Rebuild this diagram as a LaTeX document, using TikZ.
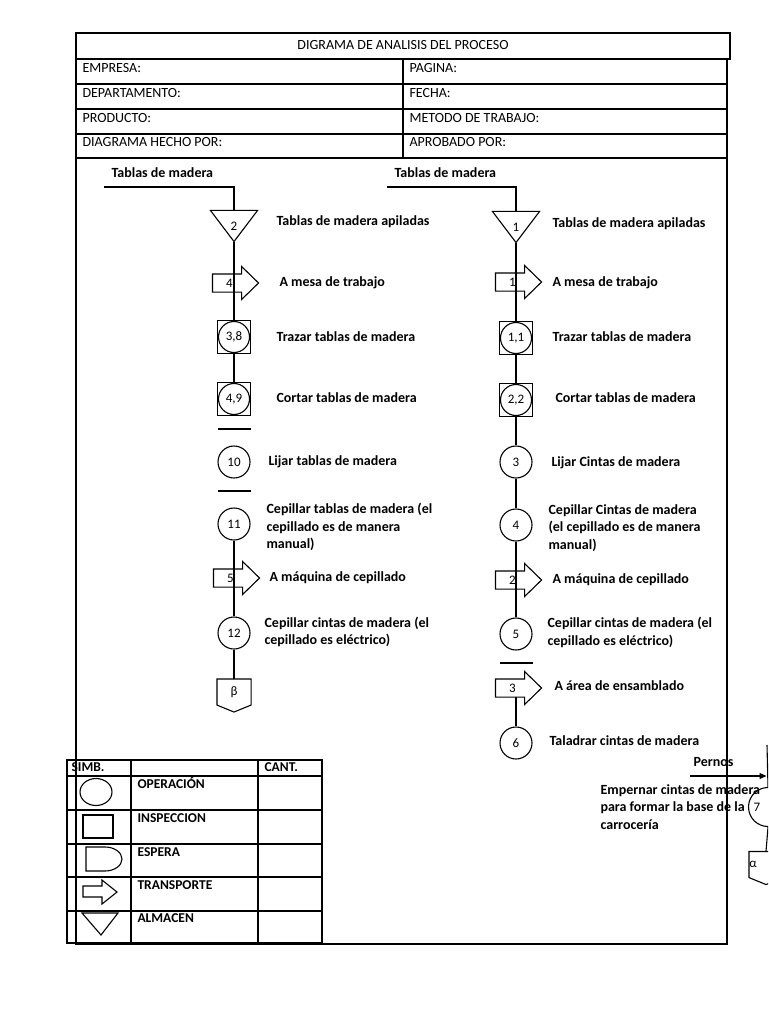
\documentclass[tikz,border=0pt]{standalone}
\usepackage{fontspec}
\setmainfont{Carlito}
\usepackage{tikz}
\usetikzlibrary{
  calc,        % Offsets from node anchors: ($(A.east)+(17,0)$)
  arrows.meta  % Arrow tip of the Pernos line
}

% Fonts of the sheet
\newcommand{\lblfont}{\bfseries\fontsize{14}{17.5}\selectfont}
\newcommand{\hdrfont}{\fontsize{14}{17}\selectfont}
\newcommand{\numfont}{\fontsize{13}{15}\selectfont}

\tikzset{
  sym/.style={inner sep=0pt, font=\numfont},
  op/.style={sym, draw, circle, minimum size=32pt},
  insq/.style={sym, draw, rectangle, minimum size=33pt},
  hdr/.style={anchor=base west, inner sep=0pt, font=\hdrfont},
  lbl/.style={anchor=base west, inner sep=0pt, font=\lblfont},
  lblm/.style={anchor=west, inner sep=0pt, align=left, font=\lblfont},
  keyfont/.style={font=\bfseries\fontsize{13.5}{16}\selectfont}
}

% Storage: triangle pointing down
\newcommand{\almacen}[3]{%
  \node[sym, minimum width=46pt, minimum height=30pt] (#1) at (#2) {#3};
  \draw (#1.north west) -- (#1.north east) -- (#1.south) -- cycle;
}
% Transport: node is the body, head drawn after it
\newcommand{\transporte}[3]{%
  \node[sym, minimum width=28pt, minimum height=17pt] (#1) at (#2) {\raisebox{-2.5pt}{\hspace*{5pt}#3}};
  \draw (#1.north west) -- (#1.north east) -- ($(#1.north east)+(0,-7.5)$)
    -- ($(#1.east)+(17,0)$) -- ($(#1.south east)+(0,7.5)$)
    -- (#1.south east) -- (#1.south west) -- cycle;
}
% Inspection with operation: circle inside a square
\newcommand{\opinsp}[3]{%
  \node[insq] (#1) at (#2) {};
  \node[op, minimum size=31pt] (#1c) at (#1) {#3};
}
% Off-page connector
\newcommand{\conector}[4][]{%
  \node[sym, minimum width=33pt, minimum height=25pt,
        label={[sym, #1]center:#4}] (#2) at (#3) {};
  \draw (#2.north west) -- (#2.north east) -- (#2.south east)
    -- ($(#2.south)+(0,7)$) -- (#2.south west) -- cycle;
}

\begin{document}
\begin{tikzpicture}[x=1pt, y=-1pt, line width=1.1pt]
  \def\xL{76}    % left edge of the sheet
  \def\xR{727}   % right edge of the sheet
  \def\xM{403}   % middle rule of the header
  \def\yB{944}   % bottom edge of the sheet
  \useasboundingbox (0,0) rectangle (768,1024);
  \clip (0,0) rectangle (768,1024);
  \fill[white] (0,0) rectangle (768,1024);

  % header
  \draw (\xL,33) rectangle (730,59);
  \node[hdr, anchor=base] (titulo) at (403,50) {DIGRAMA DE ANALISIS DEL PROCESO};
  \draw (\xL,59) -- (\xL,\yB) -- (\xR,\yB) -- (\xR,59);
  \draw (\xL,84) -- (\xR,84);
  \draw (\xL,109) -- (\xR,109);
  \draw (\xL,134) -- (\xR,134);
  \draw (\xL,158) -- (\xR,158);
  \draw (\xM,59) -- (\xM,158);
  \node[hdr] (empresa) at (82,73) {EMPRESA:};
  \node[hdr] (depto) at (82,98) {DEPARTAMENTO:};
  \node[hdr] (producto) at (82,123) {PRODUCTO:};
  \node[hdr] (hecho) at (82,147) {DIAGRAMA HECHO POR:};
  \node[hdr] (pagina) at (409,73) {PAGINA:};
  \node[hdr] (fecha) at (409,98) {FECHA:};
  \node[hdr] (metodo) at (409,123) {METODO DE TRABAJO:};
  \node[hdr] (aprobado) at (409,147) {APROBADO POR:};

  % left column
  \node[lbl] (entL) at (111,178) {Tablas de madera};
  \coordinate (inL) at (104,187);
  \almacen{alm2}{234,226}{2}
  \transporte{tr4}{227,283}{4}
  \opinsp{ins38}{234,337}{3,8}
  \opinsp{ins49}{234,399}{4,9}
  \node[op] (op10) at (234,462) {10};
  \node[op] (op11) at (234,524) {11};
  \transporte{tr5}{228,578}{5}
  \node[op] (op12) at (234,633) {12};
  \conector{conB}{234,692}{β}
  \draw (inL) -| (alm2.north);
  \draw (alm2.south) -- (ins38.north);
  \draw (ins38.south) -- (ins49.north);
  \draw (op11.south) -- (op12.north);
  \draw[line width=1.8pt] (op12.south) -- (conB.north);
  \draw (218,429) -- (251,429);
  \draw[line width=2.4pt] (218,491) -- (251,491);
  \node[lbl] (l2) at (276,225.5) {Tablas de madera apiladas};
  \node[lbl] (l4) at (279,286) {A mesa de trabajo};
  \node[lbl] (l38) at (276,341.5) {Trazar tablas de madera};
  \node[lbl] (l49) at (276,402) {Cortar tablas de madera};
  \node[lbl] (l10) at (268,465) {Lijar tablas de madera};
  \node[lblm] (l11) at (266,527) {Cepillar tablas de madera (el\\cepillado es de manera\\manual)};
  \node[lbl] (l5) at (269,581.5) {A máquina de cepillado};
  \node[lblm] (l12) at (264,632) {Cepillar cintas de madera (el\\cepillado es eléctrico)};

  % right column
  \node[lbl] (entR) at (394,178) {Tablas de madera};
  \coordinate (inR) at (387,187);
  \almacen{alm1}{516,227}{1}
  \transporte{tr1}{510,282}{1}
  \opinsp{ins11}{516,338}{1,1}
  \opinsp{ins22}{516,400}{2,2}
  \node[op] (op3) at (516,462) {3};
  \node[op] (op4) at (516,525) {4};
  \transporte{tr2}{510,580}{2}
  \node[op] (op5) at (516,634) {5};
  \transporte{tr3}{510,688}{3}
  \node[op] (op6) at (516,743) {6};
  \draw (inR) -| (alm1.north);
  \draw (alm1.south) -- (ins11.north);
  \draw (ins11.south) -- (ins22.north);
  \draw (ins22.south) -- (op3.north);
  \draw (op3.south) -- (op4.north);
  \draw (op4.south) -- (op5.north);
  \draw (tr3.south -| op6) -- (op6.north);
  \draw (500,663) -- (533,663);
  \node[lbl] (l1) at (552,228) {Tablas de madera apiladas};
  \node[lbl] (lt1) at (552,286) {A mesa de trabajo};
  \node[lbl] (l11b) at (552,341.5) {Trazar tablas de madera};
  \node[lbl] (l22) at (555,402) {Cortar tablas de madera};
  \node[lbl] (l3) at (551,466) {Lijar Cintas de madera};
  \node[lblm] (l4b) at (548,528) {Cepillar Cintas de madera\\(el cepillado es de manera\\manual)};
  \node[lbl] (lt2) at (552,583) {A máquina de cepillado};
  \node[lblm] (l5b) at (547,632.5) {Cepillar cintas de madera (el\\cepillado es eléctrico)};
  \node[lbl] (lt3) at (554,690.5) {A área de ensamblado};
  \node[lbl] (l6) at (549,745) {Taladrar cintas de madera};

  % bolts join at operation 7 (cut by the page edge)
  \node[lbl] (pernos) at (693,766) {Pernos};
  \coordinate (pernosIn) at (690,776);
  \coordinate (entra7) at (767,745);
  \node[op, minimum size=39pt, label={[sym, xshift=-11pt]center:7}] (op7) at (768,807) {};
  \conector[xshift=-13pt]{conA}{766,864.5}{α}
  \draw (entra7) -- (op7.north);
  \draw[-{Triangle[length=7pt, width=6pt]}, shorten >=1.5pt] (pernosIn) -- (pernosIn -| op7);
  \draw (op7.south) -- (conA.north);
  \node[lblm] (l7) at (600,807) {Empernar cintas de madera\\para formar la base de la\\carrocería};

  % legend
  \draw (67,760) rectangle (322,943);
  \draw (67,776) -- (322,776);
  \draw (67,810) -- (322,810);
  \draw (67,844) -- (322,844);
  \draw (67,877) -- (322,877);
  \draw (67,911) -- (322,911);
  \draw (131,760) -- (131,943);
  \draw (258,760) -- (258,943);
  \node[lbl, keyfont] (simb) at (71,771) {SIMB.};
  \node[lbl, keyfont] (cant) at (264,771) {CANT.};
  \node[lbl, keyfont] (kop) at (137,788) {OPERACIÓN};
  \node[lbl, keyfont] (kins) at (137,822.5) {INSPECCION};
  \node[lbl, keyfont] (kesp) at (137,856) {ESPERA};
  \node[lbl, keyfont] (ktr) at (137,889) {TRANSPORTE};
  \node[lbl, keyfont] (kalm) at (137,922.5) {ALMACEN};
  \draw (96,792) ellipse [x radius=16, y radius=13.5];
  \draw (83,815) rectangle (113,838);
  \draw (86,847) -- (105,847) arc[start angle=-90, end angle=90, x radius=17, y radius=12] -- (86,871) -- cycle;
  \draw (83,886) -- (102,886) -- (102,880) -- (117,892) -- (102,904) -- (102,897) -- (83,897) -- cycle;
  \draw (82,913) -- (118,913) -- (101,935) -- cycle;
\end{tikzpicture}
\end{document}
